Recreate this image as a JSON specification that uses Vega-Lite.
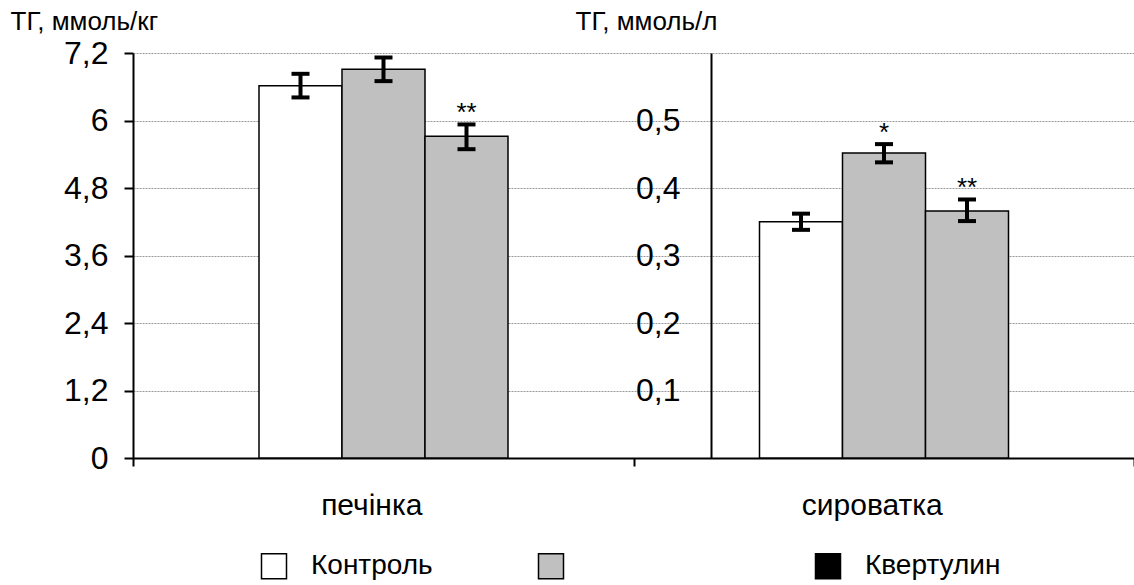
{
  "$schema": "https://vega.github.io/schema/vega-lite/v6.json",
  "width": 1001,
  "height": 405,
  "autosize": {"type": "none"},
  "padding": {"left": 133, "top": 53, "right": 0, "bottom": 127},
  "background": "white",
  "config": {
    "view": {"stroke": null},
    "font": "Liberation Sans",
    "axis": {
      "labelFont": "Liberation Sans",
      "titleFont": "Liberation Sans",
      "labelColor": "black",
      "titleColor": "black",
      "domainColor": "black",
      "tickColor": "black",
      "titleFontWeight": "normal"
    }
  },
  "datasets": {
    "liver": [
      {"organ": "печінка", "series": "Контроль", "value": 6.62, "lo": 6.41, "hi": 6.83, "sig": ""},
      {"organ": "печінка", "series": "", "value": 6.91, "lo": 6.70, "hi": 7.12, "sig": ""},
      {"organ": "печінка", "series": "Квертулин", "value": 5.72, "lo": 5.49, "hi": 5.93, "sig": "**"}
    ],
    "serum": [
      {"organ": "сироватка", "series": "Контроль", "value": 0.350, "lo": 0.338, "hi": 0.362, "sig": ""},
      {"organ": "сироватка", "series": "", "value": 0.452, "lo": 0.438, "hi": 0.465, "sig": "*"},
      {"organ": "сироватка", "series": "Квертулин", "value": 0.366, "lo": 0.351, "hi": 0.383, "sig": "**"}
    ]
  },
  "encoding": {
    "x": {
      "field": "organ",
      "type": "nominal",
      "sort": null,
      "scale": {"domain": ["печінка", "сироватка"], "paddingInner": 0, "paddingOuter": 0},
      "axis": {
        "title": null,
        "labelAngle": 0,
        "labelFontSize": 30,
        "labelPadding": 24,
        "labelOffset": -12,
        "tickBand": "extent",
        "tickSize": 8,
        "tickWidth": 2,
        "domainWidth": 2,
        "grid": false
      }
    },
    "xOffset": {
      "field": "series",
      "type": "nominal",
      "sort": null,
      "scale": {"domain": ["Контроль", "", "Квертулин"], "range": [126, 375], "paddingInner": 0, "paddingOuter": 0}
    }
  },
  "layer": [
    {
      "data": {"name": "liver"},
      "encoding": {
        "y": {
          "field": "value",
          "type": "quantitative",
          "scale": {"domain": [0, 7.2], "nice": false},
          "title": "ТГ, ммоль/кг",
          "axis": {
            "titleAngle": 0,
            "titleAlign": "left",
            "titleBaseline": "alphabetic",
            "titleX": -123,
            "titleY": -24,
            "titleFontSize": 26,
            "values": [0, 1.2, 2.4, 3.6, 4.8, 6, 7.2],
            "labelExpr": "replace(format(datum.value, '~g'), '.', ',')",
            "labelFontSize": 32,
            "labelPadding": 16,
            "tickSize": 9,
            "tickWidth": 2,
            "domainWidth": 2,
            "grid": true,
            "gridColor": "#999999",
            "gridDash": [2, 1],
            "gridWidth": 1
          }
        }
      },
      "layer": [
        {
          "mark": {"type": "bar", "stroke": "black", "strokeWidth": 1.5},
          "encoding": {
            "fill": {
              "condition": {"test": "datum.series === 'Квертулин'", "value": "#c0c0c0"},
              "field": "series",
              "type": "nominal",
              "scale": {"domain": ["Контроль", "", "Квертулин"], "range": ["white", "#c0c0c0", "black"]},
              "legend": {
                "title": null,
                "orient": "none",
                "legendX": 127,
                "legendY": 499,
                "direction": "horizontal",
                "columns": 3,
                "gridAlign": "all",
                "columnPadding": 88,
                "padding": 0,
                "symbolType": "square",
                "symbolSize": 625,
                "symbolStrokeColor": "black",
                "symbolStrokeWidth": 1.5,
                "symbolOpacity": 1,
                "labelFont": "Liberation Sans",
                "labelFontSize": 28,
                "labelColor": "black",
                "labelOffset": 23,
                "labelLimit": 400
              }
            }
          }
        },
        {
          "mark": {"type": "rule", "strokeWidth": 4, "color": "black"},
          "encoding": {
            "y": {"field": "lo", "type": "quantitative", "title": "ТГ, ммоль/кг"},
            "y2": {"field": "hi"}
          }
        },
        {
          "mark": {"type": "tick", "thickness": 4, "size": 18, "color": "black", "opacity": 1},
          "encoding": {"y": {"field": "lo", "type": "quantitative", "title": "ТГ, ммоль/кг"}}
        },
        {
          "mark": {"type": "tick", "thickness": 4, "size": 18, "color": "black", "opacity": 1},
          "encoding": {"y": {"field": "hi", "type": "quantitative", "title": "ТГ, ммоль/кг"}}
        },
        {
          "mark": {"type": "text", "baseline": "alphabetic", "dy": -3, "fontSize": 26, "font": "Liberation Sans", "color": "black"},
          "encoding": {
            "y": {"field": "hi", "type": "quantitative", "title": "ТГ, ммоль/кг"},
            "text": {"field": "sig"}
          }
        }
      ]
    },
    {
      "data": {"name": "serum"},
      "encoding": {
        "y": {
          "field": "value",
          "type": "quantitative",
          "scale": {"domain": [0, 0.6], "nice": false},
          "title": "ТГ, ммоль/л",
          "axis": {
            "orient": "left",
            "offset": -578,
            "titleAngle": 0,
            "titleAlign": "left",
            "titleBaseline": "alphabetic",
            "titleX": -136,
            "titleY": -24,
            "titleFontSize": 26,
            "values": [0.1, 0.2, 0.3, 0.4, 0.5],
            "labelExpr": "replace(format(datum.value, '~g'), '.', ',')",
            "labelFontSize": 32,
            "labelPadding": 31,
            "ticks": false,
            "tickSize": 0,
            "domainWidth": 2,
            "grid": false
          }
        }
      },
      "layer": [
        {
          "mark": {"type": "bar", "stroke": "black", "strokeWidth": 1.5},
          "encoding": {
            "fill": {
              "condition": {"test": "datum.series === 'Квертулин'", "value": "#c0c0c0"},
              "field": "series",
              "type": "nominal",
              "legend": null
            }
          }
        },
        {
          "mark": {"type": "rule", "strokeWidth": 4, "color": "black"},
          "encoding": {
            "y": {"field": "lo", "type": "quantitative", "title": "ТГ, ммоль/л"},
            "y2": {"field": "hi"}
          }
        },
        {
          "mark": {"type": "tick", "thickness": 4, "size": 18, "color": "black", "opacity": 1},
          "encoding": {"y": {"field": "lo", "type": "quantitative", "title": "ТГ, ммоль/л"}}
        },
        {
          "mark": {"type": "tick", "thickness": 4, "size": 18, "color": "black", "opacity": 1},
          "encoding": {"y": {"field": "hi", "type": "quantitative", "title": "ТГ, ммоль/л"}}
        },
        {
          "mark": {"type": "text", "baseline": "alphabetic", "dy": -3, "fontSize": 26, "font": "Liberation Sans", "color": "black"},
          "encoding": {
            "y": {"field": "hi", "type": "quantitative", "title": "ТГ, ммоль/л"},
            "text": {"field": "sig"}
          }
        }
      ]
    }
  ],
  "resolve": {"scale": {"y": "independent"}, "axis": {"y": "independent"}}
}
